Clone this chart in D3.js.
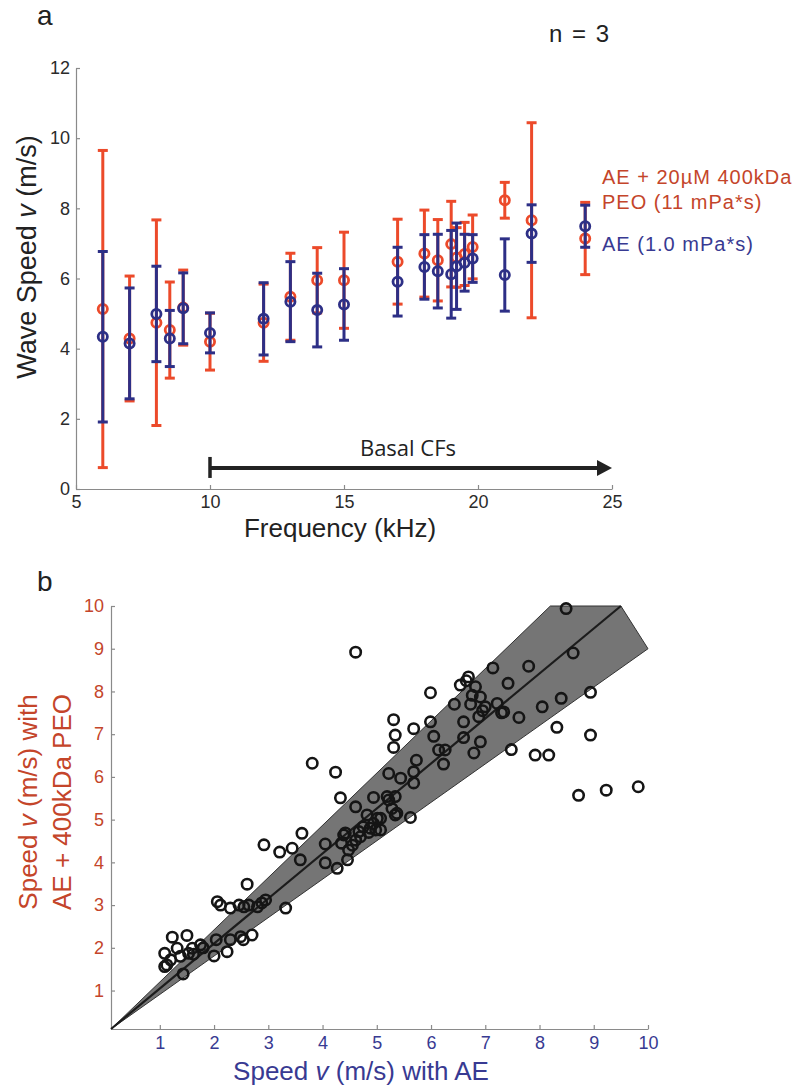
<!DOCTYPE html>
<html><head><meta charset="utf-8">
<script src="https://cdn.jsdelivr.net/npm/d3@7"></script>
<style>
body{margin:0;background:#fff}
svg{display:block}
text{font-family:"Liberation Sans",Arial,Helvetica,sans-serif}
</style>
</head><body>
<svg id="c" width="796" height="1089"></svg>
<script>
// ---------- Panel a data ----------
const freqs   = [6, 7, 8, 8.5, 9, 10, 12, 13, 14, 15, 17, 18, 18.5, 19, 19.2, 19.5, 19.8, 21, 22, 24];
const peoMean = [5.13, 4.29, 4.74, 4.53, 5.17, 4.20, 4.74, 5.48, 5.95, 5.95, 6.48, 6.71, 6.52, 6.98, 6.60, 6.70, 6.90, 8.23, 7.66, 7.14];
const peoErr  = [4.52, 1.78, 2.93, 1.37, 1.07, 0.81, 1.10, 1.24, 0.93, 1.37, 1.21, 1.24, 1.16, 1.22, 0.85, 0.90, 0.91, 0.51, 2.78, 1.03];
const aeMean  = [4.34, 4.15, 4.99, 4.29, 5.15, 4.45, 4.85, 5.34, 5.10, 5.26, 5.91, 6.33, 6.21, 6.12, 6.35, 6.45, 6.57, 6.10, 7.28, 7.49];
const aeErr   = [2.43, 1.58, 1.36, 0.80, 1.01, 0.57, 1.03, 1.14, 1.05, 1.02, 0.98, 0.92, 1.05, 1.25, 1.23, 0.81, 0.68, 1.03, 0.82, 0.60];
const freqTicks  = [5, 10, 15, 20, 25];
const speedTicks = [0, 2, 4, 6, 8, 10, 12];
const basalRange = [10, 25];
const basalLevel = 0.6;
const legendLines = ["AE + 20\u00B5M 400kDa", "PEO (11 mPa*s)", "AE (1.0 mPa*s)"];

// ---------- Panel b data ----------
const aeSpeed = [
 1.09,1.09,1.20,1.23,1.32,1.38,1.43,1.50,1.53,1.60,1.75,1.62,1.13,1.80,2.00,2.04,2.24,2.30,2.49,2.54,2.70,
 2.06,2.12,2.30,2.46,2.55,2.64,2.80,2.95,2.61,3.32,2.88,
 2.92,3.21,3.44,3.62,3.59,4.05,4.05,4.27,4.46,4.48,4.39,4.61,4.67,4.88,4.94,5.07,
 3.81,4.24,4.33,4.61,4.42,4.75,4.98,4.61,4.82,5.01,4.94,4.35,4.55,4.70,4.85,
 5.31,5.34,5.31,5.22,5.22,5.34,5.34,5.68,5.99,6.05,6.60,6.60,6.88,6.91,6.79,6.14,6.26,6.23,5.73,5.68,5.44,5.68,5.19,5.28,5.37,5.62,5.07,
 5.99,6.43,6.54,6.69,6.76,6.82,6.91,6.73,7.00,7.14,7.22,7.34,7.30,7.42,7.62,7.80,8.05,8.40,8.49,8.62,8.94,8.94,8.32,7.92,8.17,7.48,8.72,9.23,9.82,6.65,6.95
];
const peoSpeed = [
 1.56,1.87,1.72,2.25,1.99,1.80,1.39,2.29,1.87,1.99,2.07,1.85,1.60,2.00,1.81,2.19,1.91,2.19,2.26,2.19,2.30,
 3.08,3.00,2.93,3.00,2.96,3.00,2.96,3.12,3.49,2.93,3.05,
 4.41,4.24,4.33,4.68,4.06,4.43,3.99,3.86,4.06,4.29,4.64,4.52,4.72,4.80,4.91,4.76,
 6.32,6.11,5.51,8.92,4.69,4.83,4.76,5.30,5.11,5.03,5.52,4.45,4.40,4.60,4.70,
 7.34,6.98,6.69,6.08,5.46,5.54,5.11,7.13,7.29,6.95,7.29,6.92,7.41,6.82,6.56,6.63,6.63,6.30,6.39,6.12,5.97,5.86,5.54,5.26,5.15,5.05,5.03,
 7.97,7.70,8.15,8.34,7.91,8.11,7.87,7.70,7.64,8.55,7.72,7.52,7.50,8.19,7.39,8.59,7.64,7.84,9.94,8.90,7.98,6.98,7.16,6.51,6.51,6.64,5.57,5.69,5.77,8.25,7.55
];
const fitLine = [[0.1, 0.1], [9.5, 10]];
const bandVertices = [[0.1, 0.1], [8.2, 10], [9.5, 10], [10, 9]];
const bTicks = [1, 2, 3, 4, 5, 6, 7, 8, 9, 10];

// ---------- styles ----------
const RED = "#ec4a2a", BLUE = "#2d2f86";
const RED_TXT = "#c4452a", BLUE_TXT = "#383a92";
const AXIS = "#8a8a8a", TICKTXT = "#2b2b2b";

const svg = d3.select("#c");

// ================= Panel a =================
const xa = d3.scaleLinear().domain([5, 25]).range([76, 612]);
const ya = d3.scaleLinear().domain([0, 12]).range([489, 68]);
const ga = svg.append("g");

const axA = ga.append("g").attr("transform", `translate(0,${ya(0)})`)
  .call(d3.axisBottom(xa).tickValues(freqTicks).tickSizeInner(-4).tickSizeOuter(0).tickPadding(6));
const ayA = ga.append("g").attr("transform", `translate(${xa(5)},0)`)
  .call(d3.axisLeft(ya).tickValues(speedTicks).tickSizeInner(-4).tickSizeOuter(0).tickPadding(6));
[axA, ayA].forEach(a => {
  a.select(".domain").attr("stroke", AXIS).attr("stroke-width", 1.2);
  a.selectAll(".tick line").attr("stroke", AXIS).attr("stroke-width", 1.2);
  a.selectAll(".tick text").attr("fill", TICKTXT).style("font-size", "18px");
});
axA.selectAll(".tick text").attr("dy", "0.71em");

function drawSeries(mean, err, color) {
  const g = ga.append("g");
  freqs.forEach((f, i) => {
    const x = xa(f), top = ya(mean[i] + err[i]), bot = ya(mean[i] - err[i]);
    g.append("line").attr("x1", x).attr("x2", x).attr("y1", top).attr("y2", bot)
      .attr("stroke", color).attr("stroke-width", 3);
    [top, bot].forEach(yy => g.append("line").attr("x1", x - 5).attr("x2", x + 5)
      .attr("y1", yy).attr("y2", yy).attr("stroke", color).attr("stroke-width", 3));
    g.append("circle").attr("cx", x).attr("cy", ya(mean[i])).attr("r", 4.6)
      .attr("fill", "none").attr("stroke", color).attr("stroke-width", 2.8);
  });
}
drawSeries(peoMean, peoErr, RED);
drawSeries(aeMean, aeErr, BLUE);

// basal CFs arrow
const arY = ya(basalLevel);
const x0 = xa(basalRange[0]), x1 = xa(basalRange[1]);
ga.append("line").attr("x1", x0).attr("x2", x1 - 12).attr("y1", arY).attr("y2", arY)
  .attr("stroke", "#222").attr("stroke-width", 4);
ga.append("line").attr("x1", x0).attr("x2", x0).attr("y1", arY - 11).attr("y2", arY + 10)
  .attr("stroke", "#222").attr("stroke-width", 3.5);
ga.append("path").attr("d", `M${x1},${arY} L${x1 - 15},${arY - 8} L${x1 - 15},${arY + 8} Z`).attr("fill", "#222");
ga.append("text").attr("x", 408).attr("y", arY - 12).attr("text-anchor", "middle")
  .style("font-family", "'Open Sans',sans-serif").style("font-size", "22px").attr("fill", "#222").text("Basal CFs");

// labels
ga.append("text").attr("x", 37).attr("y", 25).style("font-size", "28px").attr("fill", "#222").text("a");
ga.append("text").attr("x", 549).attr("y", 42).style("font-size", "24px").attr("fill", "#222")
  .style("word-spacing", "3px").text("n = 3");
const yl = ga.append("text").attr("transform", "translate(36,257) rotate(-90)").attr("text-anchor", "middle")
  .style("font-size", "27px").attr("fill", "#222");
yl.append("tspan").text("Wave Speed ");
yl.append("tspan").style("font-style", "italic").text("v");
yl.append("tspan").text(" (m/s)");
ga.append("text").attr("x", 340).attr("y", 537).attr("text-anchor", "middle")
  .style("font-size", "26px").attr("fill", "#222").text("Frequency (kHz)");

// legend
ga.append("text").attr("x", 602).attr("y", 184).style("font-size", "20px").attr("fill", RED_TXT)
  .style("letter-spacing", "1px").text(legendLines[0]);
ga.append("text").attr("x", 602).attr("y", 209).style("font-size", "20px").attr("fill", RED_TXT)
  .style("letter-spacing", "1px").text(legendLines[1]);
ga.append("text").attr("x", 602).attr("y", 251).style("font-size", "20px").attr("fill", BLUE_TXT)
  .style("letter-spacing", "1px").text(legendLines[2]);

// ================= Panel b =================
const xb = d3.scaleLinear().domain([0.1, 10]).range([111, 648]);
const yb = d3.scaleLinear().domain([0.1, 10]).range([1029, 606]);
const gb = svg.append("g");

const axB = gb.append("g").attr("transform", `translate(0,${yb(0.1)})`)
  .call(d3.axisBottom(xb).tickValues(bTicks).tickSizeInner(-4).tickSizeOuter(0).tickPadding(7));
const ayB = gb.append("g").attr("transform", `translate(${xb(0.1)},0)`)
  .call(d3.axisLeft(yb).tickValues(bTicks).tickSizeInner(-4).tickSizeOuter(0).tickPadding(7));
[axB, ayB].forEach(a => {
  a.select(".domain").attr("stroke", AXIS).attr("stroke-width", 1.2);
  a.selectAll(".tick line").attr("stroke", AXIS).attr("stroke-width", 1.2);
  a.selectAll(".tick text").style("font-size", "18px");
});
axB.selectAll(".tick text").attr("fill", BLUE_TXT).attr("dy", "0.71em");
ayB.selectAll(".tick text").attr("fill", RED_TXT);

gb.append("path").datum(bandVertices)
  .attr("d", d3.line().x(d => xb(d[0])).y(d => yb(d[1])).curve(d3.curveLinearClosed))
  .attr("fill", "#6e6e6e").attr("fill-opacity", 0.95).attr("stroke", "#333").attr("stroke-width", 1);
gb.append("path").datum(fitLine)
  .attr("d", d3.line().x(d => xb(d[0])).y(d => yb(d[1])))
  .attr("stroke", "#1c1c1c").attr("stroke-width", 2.2).attr("fill", "none");

gb.append("g").selectAll("circle").data(aeSpeed.map((v, i) => [v, peoSpeed[i]])).join("circle")
  .attr("cx", d => xb(d[0])).attr("cy", d => yb(d[1])).attr("r", 5.2)
  .attr("fill", "none").attr("stroke", "#151515").attr("stroke-width", 2.6);

gb.append("text").attr("x", 37).attr("y", 591).style("font-size", "28px").attr("fill", "#222").text("b");
const xl = gb.append("text").attr("x", 361).attr("y", 1080).attr("text-anchor", "middle")
  .style("font-size", "26px").attr("fill", BLUE_TXT);
xl.append("tspan").text("Speed ");
xl.append("tspan").style("font-style", "italic").text("v");
xl.append("tspan").text(" (m/s) with AE");
const yl1 = gb.append("text").attr("transform", "translate(37,802) rotate(-90)").attr("text-anchor", "middle")
  .style("font-size", "26px").attr("fill", RED_TXT);
yl1.append("tspan").text("Speed ");
yl1.append("tspan").style("font-style", "italic").text("v");
yl1.append("tspan").text(" (m/s) with");
gb.append("text").attr("transform", "translate(71,802) rotate(-90)").attr("text-anchor", "middle")
  .style("font-size", "26px").attr("fill", RED_TXT).text("AE + 400kDa PEO");
</script>
</body></html>
